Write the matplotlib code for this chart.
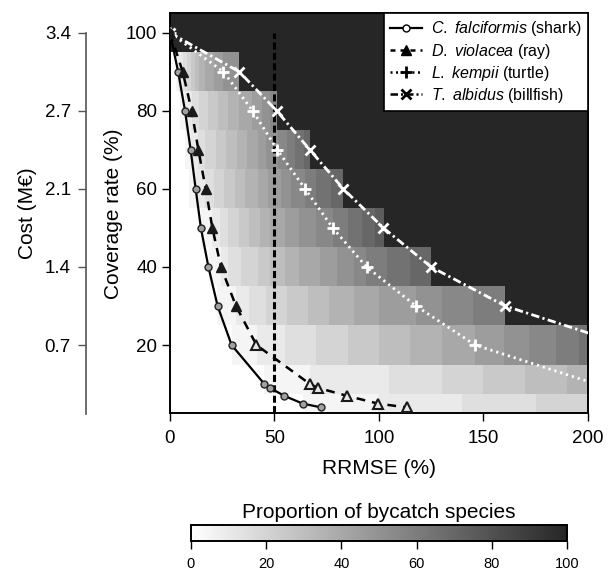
import numpy as np
import matplotlib
matplotlib.use("Agg")
import matplotlib.pyplot as plt
from matplotlib.colors import LinearSegmentedColormap
from matplotlib.lines import Line2D

plt.rcParams['font.family'] = ['Liberation Sans', 'DejaVu Sans']
plt.rcParams['mathtext.fontset'] = 'custom'
plt.rcParams['mathtext.it'] = 'Liberation Sans:italic'
plt.rcParams['mathtext.rm'] = 'Liberation Sans'

# ---------------- data ----------------
# species curves (RRMSE %, coverage %)
shark_cov = [100, 90, 80, 70, 60, 50, 40, 30, 20, 10, 9, 7, 5, 4]
shark_rrmse = [0, 3.9, 7.2, 9.9, 12.3, 14.8, 18.4, 22.8, 29.5, 45.2, 48, 54.6, 63.5, 72.5]
ray_cov = [100, 90, 80, 70, 60, 50, 40, 30, 20, 10, 9, 7, 5, 4]
ray_rrmse = [0, 6.1, 10.4, 13.6, 17.1, 20.3, 24.4, 31.6, 41.4, 67, 71, 84.6, 99.5, 113.4]
turtle_cov = [100, 90, 80, 70, 60, 50, 40, 30, 20, 10]
turtle_rrmse = [0, 25.6, 39.6, 51.4, 64.7, 77.9, 94.1, 117.8, 146.1, 204]
billfish_cov = [100, 90, 80, 70, 60, 50, 40, 30, 20]
billfish_rrmse = [0, 33.2, 51.1, 67, 83, 102.2, 125, 160.5, 218]

species_labels = [r"$\it{C.\ falciformis}$ (shark)", r"$\it{D.\ violacea}$ (ray)",
                  r"$\it{L.\ kempii}$ (turtle)", r"$\it{T.\ albidus}$ (billfish)"]

# heat map: RRMSE of each bycatch species at each coverage level
heat_coverage = [5, 10, 20, 30, 40, 50, 60, 70, 80, 90, 100]
rrmse_c5 = [63.5, 99.5, 140, 175, 210, 230, 250, 270, 290, 310, 330, 350, 370, 390,
            410, 430, 450, 470, 490, 510]
rrmse_c10 = [45.2, 67, 105, 130, 150, 170, 190, 204, 220, 240, 260, 280, 300, 320,
             340, 360, 380, 400, 420, 440]
rrmse_c20 = [29.5, 41.4, 55, 70, 85, 100, 115, 130, 146.1, 160, 172, 185, 196,
             218, 218, 218, 218, 218, 218, 218]
rrmse_c30 = [22.8, 31.6, 38, 46, 56, 66, 76, 88, 100, 117.8, 130, 145,
             160.5, 160.5, 160.5, 160.5, 160.5, 160.5, 160.5, 160.5]
rrmse_c40 = [18.4, 24.4, 28, 34, 42, 48, 55, 62, 72, 80, 88, 94.1, 104, 115,
             125, 125, 125, 125, 125, 125]
rrmse_c50 = [14.8, 20.3, 24, 28, 33, 38, 43, 48, 55, 62, 70, 77.9, 85, 92, 98,
             102.2, 102.2, 102.2, 102.2, 102.2]
rrmse_c60 = [9, 12.3, 17.1, 21, 26, 31, 36, 42, 47, 53, 58, 64.7, 70, 77,
             83, 83, 83, 83, 83, 83]
rrmse_c70 = [7, 9.9, 13.6, 17, 22, 27, 32, 37, 42, 46, 51.4, 56, 60, 64,
             67, 67, 67, 67, 67, 67]
rrmse_c80 = [5, 7.2, 10.4, 14, 18, 23, 28, 33, 39.6, 44, 48,
             51.1, 51.1, 51.1, 51.1, 51.1, 51.1, 51.1, 51.1, 51.1]
rrmse_c90 = [3, 3.9, 6.1, 8, 10, 12, 14, 17, 21, 25.6,
             33.2, 33.2, 33.2, 33.2, 33.2, 33.2, 33.2, 33.2, 33.2, 33.2]
rrmse_c100 = [0] * 20

rrmse_threshold = 50
x_ticks = [0, 50, 100, 150, 200]
cov_ticks = [20, 40, 60, 80, 100]
cost_labels = ["0.7", "1.4", "2.1", "2.7", "3.4"]
cbar_ticks = [0, 20, 40, 60, 80, 100]

# ---------------- figure ----------------
fig = plt.figure(figsize=(6.11, 5.75), dpi=100)
ax = fig.add_axes([0.2782, 0.2812, 0.6837, 0.6957])

rows = [rrmse_c5, rrmse_c10, rrmse_c20, rrmse_c30, rrmse_c40, rrmse_c50,
        rrmse_c60, rrmse_c70, rrmse_c80, rrmse_c90, rrmse_c100]
hc = np.array(heat_coverage, dtype=float)
mids = (hc[:-1] + hc[1:]) / 2
y_edges = np.concatenate([[hc[0] - (hc[1] - hc[0]) / 2], mids,
                          [hc[-1] + (hc[-1] - hc[-2]) / 2]])
x_edges = np.linspace(0, 200, 801)
x_cent = (x_edges[:-1] + x_edges[1:]) / 2
P = np.array([[100.0 * np.mean(np.array(r) <= xv) for xv in x_cent] for r in rows])

cmap = LinearSegmentedColormap.from_list("bw", ["#ffffff", "#262626"])
mesh = ax.pcolormesh(x_edges, y_edges, P, cmap=cmap, vmin=0, vmax=100,
                     shading='flat', zorder=0)

ax.plot([rrmse_threshold, rrmse_threshold], [0, 100], color='black', lw=2.2,
        ls=(0, (2.3, 1.1)), zorder=2)

ax.plot(shark_rrmse, shark_cov, '-', color='black', lw=1.6, marker='o', ms=5,
        mfc='#a0a0a0', mec='#222222', mew=1, zorder=4)
ax.plot(ray_rrmse, ray_cov, color='black', lw=1.8, ls=(0, (3.5, 2.8)), zorder=3)
rc = np.array(ray_cov); rr = np.array(ray_rrmse)
filled = rc >= 25
ax.plot(rr[filled], rc[filled], ls='none', marker='^', ms=6.5, mfc='#1a1a1a',
        mec='#1a1a1a', zorder=4)
ax.plot(rr[~filled], rc[~filled], ls='none', marker='^', ms=6.5, mfc='#e8e8e8',
        mec='#1a1a1a', mew=1.5, zorder=4)
ax.plot(turtle_rrmse, turtle_cov, color='white', lw=2, ls=(0, (0.8, 1.4)),
        marker='+', ms=9, mew=2, mec='white', zorder=3)
ax.plot(billfish_rrmse, billfish_cov, color='white', lw=2, ls=(0, (3, 1.2, 0.8, 1.2)),
        marker='x', ms=7, mew=2, mec='white', zorder=3)

ax.set_xlim(0, 200)
ax.set_ylim(y_edges[0], y_edges[-1])
ax.set_xticks(x_ticks)
ax.set_yticks(cov_ticks)
ax.tick_params(axis='both', labelsize=13.5, length=5.8, width=1)
ax.tick_params(axis='x', pad=6.5)
ax.tick_params(axis='y', pad=3.5)
ax.set_xlabel("RRMSE (%)", fontsize=15, labelpad=8)
ax.set_ylabel("Coverage rate (%)", fontsize=15, labelpad=2)
for s in ax.spines.values():
    s.set_linewidth(1.4)

handles = [
    Line2D([], [], color='black', lw=1.6, marker='o', ms=5, mfc='white', mec='black'),
    Line2D([], [], color='black', lw=1.8, ls=(0, (2, 2)), marker='^', ms=6.5,
           mfc='black', mec='black'),
    Line2D([], [], color='black', lw=1.8, ls=(0, (0.8, 1.4)), marker='+', ms=9, mew=2),
    Line2D([], [], color='black', lw=1.8, ls=(0, (3, 1.2, 0.8, 1.2)), marker='x', ms=7,
           mew=2),
]
leg = ax.legend(handles, species_labels, loc='upper right', borderaxespad=0,
                fontsize=11.5, frameon=True, fancybox=False, framealpha=1,
                edgecolor='black', handlelength=2.0, handletextpad=0.6,
                labelspacing=0.2, borderpad=0.38)
leg.get_frame().set_linewidth(1.2)
leg.set_zorder(10)

# cost axis
ax2 = ax.twinx()
ax2.set_ylim(ax.get_ylim())
ax2.yaxis.tick_left()
ax2.yaxis.set_label_position('left')
for s in ['top', 'right', 'bottom']:
    ax2.spines[s].set_visible(False)
ax2.spines['left'].set_visible(True)
ax2.spines['left'].set_position(('outward', 60.5))
ax2.spines['left'].set_bounds(2.3, 100)
ax2.spines['left'].set_color('#555555')
ax2.spines['left'].set_linewidth(1.2)
ax2.set_yticks(cov_ticks)
ax2.set_yticklabels(cost_labels)
ax2.tick_params(axis='y', labelsize=13.5, length=5.8, width=1, color='#555555', pad=5)
ax2.set_ylabel("Cost (M€)", fontsize=15, labelpad=5.5)

# colorbar
cax = fig.add_axes([0.3126, 0.0591, 0.6154, 0.0278])
cb = fig.colorbar(mesh, cax=cax, orientation='horizontal', ticks=cbar_ticks)
cb.outline.set_linewidth(1.4)
cax.tick_params(labelsize=10.5, length=5.8, width=1, pad=6)
cax.set_title("Proportion of bycatch species", fontsize=15, pad=5)

fig.savefig("out.png", dpi=100)
